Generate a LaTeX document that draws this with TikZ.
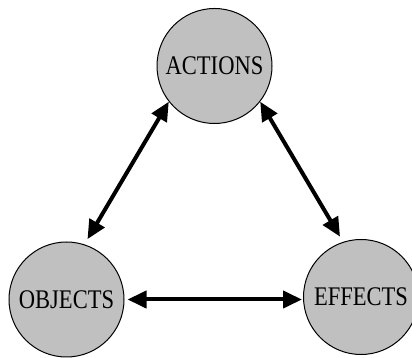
\documentclass[tikz,border=0pt]{standalone}
\usepackage{fontspec}
\setmainfont{Liberation Serif}
\usetikzlibrary{arrows.meta}
\newcommand{\tall}[1]{\scalebox{0.98}[1.17]{#1}}
\begin{document}
\begin{tikzpicture}[x=1pt,y=1pt,
  concept/.style={circle,draw=black,line width=1pt,fill={rgb,255:red,192;green,192;blue,192},
    minimum size=115pt,inner sep=0pt,font=\fontsize{23}{26}\selectfont},
  link/.style={line width=4pt,{Triangle[length=19pt,width=17pt]}-{Triangle[length=19pt,width=17pt]}}]
\useasboundingbox (0,0) rectangle (412,358);
\node[concept] (A) at (214.5,292) {\tall{ACTIONS}};
\node[concept] (O) at (66.5,58.5) {\tall{OBJECTS}};
\node[concept] (E) at (361,61) {\tall{EFFECTS}};
\draw[link,shorten >=6pt] (A.218) -- (O.72);
\draw[link,shorten >=6pt] (A.322) -- (E.108);
\draw[link,shorten <=3pt,shorten >=1pt] (O.east) -- (E.west |- O.east);
\end{tikzpicture}
\end{document}
